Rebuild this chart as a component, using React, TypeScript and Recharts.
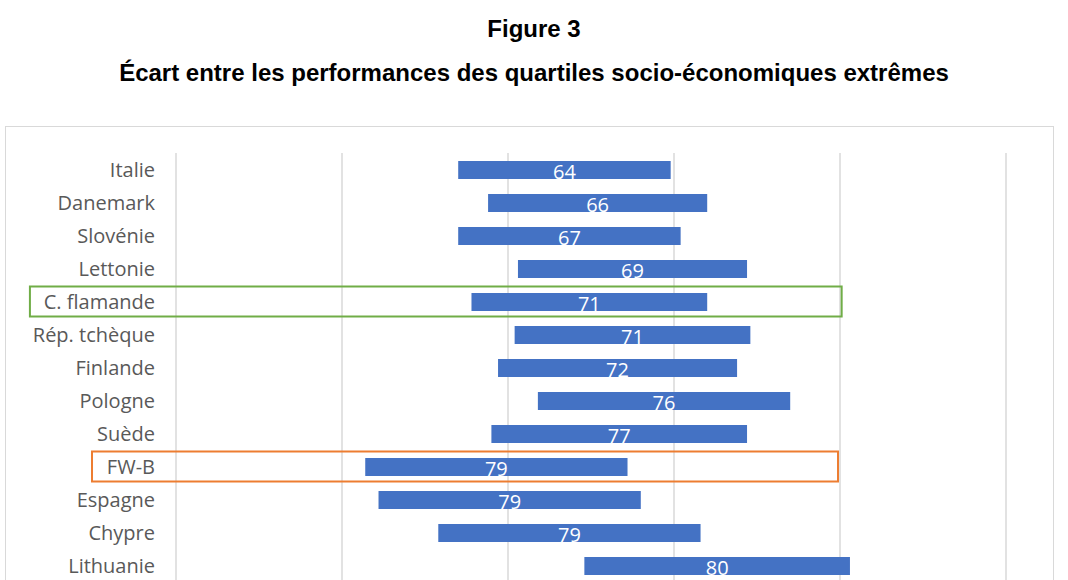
import React from 'react';
import { BarChart, Bar, XAxis, YAxis, CartesianGrid, LabelList, ReferenceArea } from 'recharts';

// countries, top to bottom
const countries = [
  'Italie', 'Danemark', 'Slovénie', 'Lettonie', 'C. flamande', 'Rép. tchèque',
  'Finlande', 'Pologne', 'Suède', 'FW-B', 'Espagne', 'Chypre', 'Lithuanie',
];
// mean score of the lowest socio-economic quartile
const lowQuartile = [485, 494, 485, 503, 489, 502, 497, 509, 495, 457, 461, 479, 523];
// mean score of the highest socio-economic quartile
const highQuartile = [549, 560, 552, 572, 560, 573, 569, 585, 572, 536, 540, 558, 603];

const xTicks = [400, 450, 500, 550, 600, 650];

// highlighted rows: [country, from, to, colour]
const highlights: [string, number, number, string][] = [
  ['C. flamande', 356, 600.5, '#70AD47'],
  ['FW-B', 374.7, 599.4, '#ED7D31'],
];

const data = countries.map((name, i) => ({
  name,
  range: [lowQuartile[i], highQuartile[i]],
  gap: highQuartile[i] - lowQuartile[i],
}));

const labelFont = '"Open Sans", "DejaVu Sans", sans-serif';

function CountryTick(props: any) {
  const { x, y, payload } = props;
  return (
    <text x={x - 13} y={y} dy={7} textAnchor="end" fill="#595959" fontSize={20} fontFamily={labelFont}>
      {payload.value}
    </text>
  );
}

export default function App() {
  return (
    <div
      style={{
        position: 'absolute',
        left: 0,
        top: 0,
        width: 1068,
        height: 580,
        overflow: 'hidden',
        background: '#fff',
        fontFamily: '"Liberation Sans", Arial, sans-serif',
      }}
    >
      <div style={{ position: 'absolute', top: 16.5, left: 0, width: 1068, textAlign: 'center', fontSize: 24, lineHeight: '24px', fontWeight: 700, color: '#000' }}>
        Figure 3
      </div>
      <div style={{ position: 'absolute', top: 60.5, left: 0, width: 1068, textAlign: 'center', fontSize: 24, lineHeight: '24px', fontWeight: 700, color: '#000' }}>
        Écart entre les performances des quartiles socio-économiques extrêmes
      </div>
      <div
        style={{
          position: 'absolute',
          left: 5,
          top: 126,
          width: 1047,
          height: 600,
          border: '1.5px solid #d9d9d9',
        }}
      />
      <div style={{ position: 'absolute', left: 0, top: 0 }}>
        <BarChart
          width={1068}
          height={600}
          data={data}
          layout="vertical"
          margin={{ top: 153, right: 62, bottom: 18, left: 0 }}
          barSize={18}
        >
          <CartesianGrid horizontal={false} stroke="#d9d9d9" strokeWidth={1.5} />
          <XAxis type="number" domain={[400, 650]} ticks={xTicks} hide allowDataOverflow />
          <YAxis
            type="category"
            dataKey="name"
            width={176}
            axisLine={false}
            tickLine={false}
            tick={<CountryTick />}
            interval={0}
          />
          {highlights.map(([name, x1, x2, color]) => (
            <ReferenceArea
              key={name}
              y1={name}
              y2={name}
              x1={x1}
              x2={x2}
              ifOverflow="visible"
              shape={(p: any) => (
                <rect
                  x={p.x}
                  y={p.y + 1.5}
                  width={p.width}
                  height={p.height - 3}
                  fill="none"
                  stroke={color}
                  strokeWidth={2}
                />
              )}
            />
          ))}
          <Bar dataKey="range" fill="#4472C4" isAnimationActive={false}>
            <LabelList
              dataKey="gap"
              position="center"
              fill="#ffffff"
              fontSize={20}
              fontFamily={labelFont}
              dy={2}
            />
          </Bar>
        </BarChart>
      </div>
    </div>
  );
}
